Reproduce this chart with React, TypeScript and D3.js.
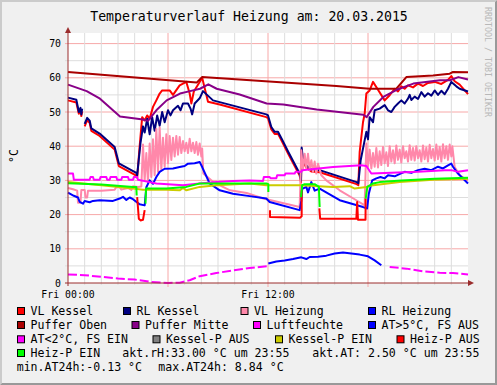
import * as d3 from 'd3';

type Pt = [number, number] | null;

// time axis in hours from Fri 00:00
const xTickLabels = ['Fri 00:00', 'Fri 12:00'];
const xTickHours = [0, 12];
const yTicks = [0, 10, 20, 30, 40, 50, 60, 70];

const vlKessel: Pt[] = [
  [0, 53.4], [0.5, 52.8], [0.65, 49.5], [0.75, 50.5], [0.8, 48.8], [0.85, 50.2], null,
  [1.0, 45.8], [1.15, 47.6], [1.3, 46.8], [1.4, 44.5], [1.9, 43], [2.8, 39], [3.05, 34.2],
  [4.1, 31.4], [4.15, 30.8], [4.3, 40], [4.45, 48.5], [4.6, 47.5], [4.75, 49], [4.9, 48],
  [5.1, 51.5], [5.3, 53.4], [5.5, 55.4], [5.65, 56.3], [6.1, 56.3], [6.3, 55], [6.7, 57.8],
  [7.1, 58.8], [7.3, 55.4], [7.4, 52.5], [7.55, 56], [7.9, 58.8], [8.05, 60.0], [8.4, 53.0],
  [9.1, 52.2], [11.9, 48.5], [12.0, 48.2], [12.2, 44.9], [12.4, 43.6], [12.6, 43.6], [12.82, 41.6],
  [13.22, 37.7], [13.9, 31.4], [13.98, 29.4], [14.02, 39], [14.1, 35.4], [14.3, 33.8], [14.6, 32.6],
  [15.1, 32.4], [17.32, 28.9], [17.42, 28.6], [17.5, 38.3], [17.7, 47], [17.8, 49.5], [17.9, 55.4],
  [18.1, 56.3], [18.3, 58.8], [18.6, 56.5], [19.0, 53.4], [19.3, 54.9], [19.6, 56.8], [19.8, 56],
  [20.0, 57.5], [20.2, 56.8], [20.4, 57.8], [20.7, 57.2], [21.0, 58.3], [21.3, 57.6], [21.6, 58.5],
  [22.0, 58.8], [22.4, 58.2], [22.8, 59.4], [23.0, 60.5], [23.2, 59.0], [23.5, 58.0], [24, 55.2],
];

const rlKessel: Pt[] = [
  [0, 54.2], [0.5, 53.6], [0.65, 50.0], [0.75, 51.2], [0.8, 49.3], [0.85, 51.0], null,
  [1.0, 46.5], [1.15, 48.3], [1.3, 47.5], [1.4, 45.2], [1.9, 43.7], [2.8, 39.8], [3.05, 35],
  [4.1, 32.2], [4.15, 31.5], [4.35, 41], [4.5, 45.8], [4.6, 44], [4.75, 48], [4.9, 43.5],
  [5.05, 48.5], [5.2, 44.5], [5.35, 49], [5.5, 46], [5.65, 50], [5.8, 47], [6.0, 50.5],
  [6.15, 49], [6.3, 50.5], [6.6, 51.8], [6.75, 50.5], [6.9, 52.5], [7.2, 52.5], [7.35, 51],
  [7.45, 49.3], [7.6, 52.5], [7.9, 54], [8.1, 56.1], [8.7, 53.4], [11.9, 49.3], [12.0, 49.0],
  [12.2, 45.6], [12.4, 44.2], [12.6, 44.2], [12.82, 42.2], [13.22, 38.3], [13.9, 32], [13.98, 30],
  [14.02, 39.6], [14.1, 36], [14.3, 34.4], [14.6, 33.2], [15.1, 33.0], [17.32, 29.5], [17.42, 29.2],
  [17.56, 35.9], [17.72, 39.8], [17.9, 44.2], [18.0, 42], [18.1, 48.5], [18.3, 47], [18.4, 50.5],
  [18.7, 51], [19.0, 52], [19.2, 50.5], [19.4, 50], [19.6, 51.5], [19.8, 52.5], [20.0, 53.4],
  [20.2, 52.5], [20.4, 53.9], [20.5, 55], [20.6, 53.5], [20.8, 54.5], [21.0, 53.8], [21.2, 55.8],
  [21.4, 54.5], [21.6, 55.5], [21.8, 54.8], [22.0, 56.3], [22.2, 55], [22.4, 56.2], [22.6, 55.2],
  [22.8, 56.8], [23.0, 58.8], [23.3, 57.5], [23.5, 56.8], [24, 56.0],
];

const vlHeizung: Pt[] = [
  [0, 27.8], [0.3, 27.4], [0.55, 27], [0.6, 23.5], [0.75, 23.5], [0.8, 27.2], [1.0, 27.2],
  [1.05, 25], [1.15, 25], [1.2, 27], [2.0, 27], [2.8, 27.3], [2.9, 28], [3.1, 28], [3.2, 27.3],
  [3.6, 27.8], [3.8, 27.2], [3.9, 28.3], [4.2, 28.1], [4.4, 28.2],
  [4.5, 40.5], [4.6, 30], [4.7, 38], [4.8, 29.5], [4.9, 40.8], [5.0, 31], [5.1, 42], [5.2, 31.5],
  [5.3, 45], [5.4, 32.5], [5.5, 45.5], [5.6, 33], [5.7, 42.5], [5.8, 34], [5.9, 43.5], [6.0, 35],
  [6.1, 43], [6.2, 36], [6.3, 42.5], [6.4, 37], [6.5, 43], [6.6, 37.5], [6.7, 42.7], [6.8, 38],
  [6.9, 41.5], [7.0, 38.5], [7.1, 41], [7.2, 38], [7.3, 42.2], [7.4, 38.5], [7.5, 41], [7.6, 38],
  [7.7, 41.2], [7.8, 37.5], [7.9, 40.8], [8.0, 37], [8.05, 39.3], [8.12, 32], [8.72, 29.5],
  [9.72, 27.1], [10.72, 26.3], [11.72, 24.7], [13.9, 22.2],
  [14.0, 38.8], [14.1, 33], [14.2, 37.8], [14.3, 33.5], [14.4, 37.8], [14.5, 33], [14.6, 35.9],
  [14.7, 32.5], [14.8, 35.5], [14.9, 32], [15.0, 34.9], [15.2, 31.5], [15.5, 30], [16.3, 27.1],
  [17.3, 24.2], [17.8, 22.7],
  [17.9, 40.8], [18.0, 34], [18.1, 39], [18.2, 33.5], [18.3, 38], [18.4, 34], [18.5, 39.5],
  [18.6, 33.8], [18.7, 38.5], [18.8, 34.5], [18.9, 39.8], [19.0, 35], [19.1, 38.2], [19.2, 34.2],
  [19.3, 40], [19.4, 35.5], [19.5, 38.8], [19.6, 35], [19.7, 40.2], [19.8, 36], [19.9, 39],
  [20.0, 35.2], [20.1, 40], [20.2, 36.5], [20.3, 38.5], [20.4, 35.5], [20.5, 40.3], [20.6, 36],
  [20.7, 39.5], [20.8, 35.8], [20.9, 40], [21.0, 36.5], [21.1, 38.8], [21.2, 35.5], [21.3, 40.2],
  [21.4, 36.2], [21.5, 39.6], [21.6, 35.5], [21.7, 40.4], [21.8, 36.5], [21.9, 39.2], [22.0, 35.8],
  [22.1, 40.5], [22.2, 36.2], [22.3, 39.8], [22.4, 35.5], [22.5, 40.6], [22.6, 36.5], [22.7, 40],
  [22.8, 36], [22.9, 40.5], [23.0, 37], [23.06, 40], [23.2, 33.9], [23.5, 31.5], [24, 30],
];

const rlHeizung: Pt[] = [
  [0, 26.4], [0.35, 25.5], [0.6, 25], [0.7, 23.7], [0.9, 23.2], [1.0, 24], [1.3, 23.6], [1.5, 24],
  [1.9, 24.2], [2.7, 24], [3.1, 24.7], [3.3, 25.2], [3.5, 24.3], [3.7, 25], [3.9, 24.5], [4.3, 23],
  [4.6, 22.7], [4.7, 28], [4.9, 30], [5.1, 29], [5.3, 31], [5.5, 32.5], [5.8, 33.4], [6.3, 33.5],
  [6.7, 33.9], [7.0, 34.2], [7.2, 34.9], [7.6, 35], [7.9, 35.4], [8.05, 33.9], [8.5, 29.1],
  [9.1, 27.1], [9.9, 26.1], [10.9, 25.4], [11.9, 24.7], [12.1, 23.7], [13.9, 21.3], [14.0, 24],
  [14.05, 27.5], [14.3, 28.1], [14.4, 26.5], [14.6, 29.5], [14.8, 27], [15.1, 27.6], [16.3, 24.2],
  [17.7, 22.2], [17.95, 21.8], [18.05, 26.1], [18.25, 30], [18.5, 30.6], [18.75, 31], [19.0, 30.6],
  [19.2, 31.5], [19.6, 31.2], [19.95, 32], [20.2, 32.5], [20.6, 32.2], [21.0, 33], [21.4, 33.4],
  [21.8, 33], [22.2, 34], [22.5, 33.5], [22.8, 34.4], [23.0, 34.9], [23.1, 34], [23.4, 32],
  [24, 29.1],
];

const pufferOben: Pt[] = [
  [0, 61.7], [7.72, 58.6], [8.04, 60.2], [16.1, 57.6], [18.1, 56.8], [19.7, 56.8], [20.3, 60.2],
  [21.9, 60.7], [22.9, 61.2], [23.1, 61.7], [24, 61.6],
];

const pufferMitte: Pt[] = [
  [0, 58.0], [1.12, 56.1], [1.92, 53.9], [3.12, 48.7], [4.5, 47.8], [4.8, 47.4], [5.3, 50.5],
  [5.92, 53.4], [6.72, 55.4], [7.32, 56.1], [7.92, 56.8], [8.42, 58.1], [8.92, 56.8], [10.3, 55.1],
  [11.92, 52.5], [12.92, 52.2], [14.92, 50.7], [17.72, 49.2], [17.92, 48.5], [18.32, 51.5],
  [18.92, 54.4], [19.72, 56.5], [20.72, 58.3], [22.32, 59.3], [22.92, 59.3], [23.42, 60.2],
  [24, 59.5],
];

const luftfeuchte: Pt[] = [
  [0, 32], [0.3, 32], [0.35, 30.2], [1.3, 30.2], [1.35, 31], [1.5, 31], [1.55, 30.2], [1.9, 30.2],
  [1.95, 31], [2.3, 31], [2.35, 30.2], [2.5, 30.2], [2.55, 31], [2.9, 31], [2.95, 30.2], [3.2, 30.2],
  [3.25, 31], [3.6, 31], [3.65, 30.2], [3.9, 30.2], [3.95, 31], [4.15, 31], [4.2, 30.2], [4.9, 29.5],
  [5.3, 29.1], [6.9, 28.6], [7.9, 29.1], [8.9, 29.5], [9.9, 29.8], [10.9, 30], [11.7, 29.8],
  [11.75, 31], [12.1, 31], [12.15, 30.6], [12.5, 30.6], [12.55, 31.5], [13.0, 31.5], [13.05, 32],
  [13.6, 32], [13.65, 32.5], [14.0, 32.5], [14.05, 33], [14.9, 33.4], [15.9, 33.9], [17.6, 34.4],
  [17.9, 34.2], [18.2, 32], [19.0, 32.2], [21.0, 32.5], [22.6, 33], [23.0, 33], [23.4, 32.5],
  [24, 33],
];

// outside temperature, split by colour band
const atWarm: Pt[] = [
  [12.02, 5.7], [12.5, 6.3], [13, 6.6], [13.5, 7.0], [14, 7.5], [14.3, 7.0], [14.5, 7.6], [15.0, 7.7],
  [15.5, 8.0], [16.0, 8.6], [16.5, 8.9], [17.0, 8.6], [17.5, 8.3], [18.0, 7.8], [18.4, 6.6],
  [18.8, 5.2],
];

const atCold: Pt[] = [
  [0, 2.5], [1, 2.3], [2, 1.8], [3, 1.3], [4, 1.0], [5, 0.3], [6, 0], [6.7, 0.1], [7.3, 0.8],
  [7.9, 2.0], [8.9, 2.9], [9.9, 3.7], [10.9, 4.4], [11.95, 4.9], null,
  [19.3, 4.7], [20.3, 4.2], [21.3, 3.4], [22.3, 3.0], [23.1, 2.9], [24, 2.5],
];

const kesselPEin: Pt[] = [
  [0, 29.5], [2, 28.6], [3.9, 27.6], [4.5, 27.3], [5.9, 27.3], [6.7, 27.1], [6.9, 27.8], [7.1, 27.1],
  [7.9, 28.1], [8.9, 28.6], [10.9, 29.1], [11.9, 28.6], [13.9, 28.6], [15.9, 28.1], [16.9, 28.3],
  [17.2, 27.6], [17.9, 28.1], [18.2, 28.5], [19.9, 29.5], [21.9, 30.2], [24, 30.5],
];

const heizPAus: Pt[] = [
  [4.15, 25.1], [4.25, 18.8], [4.35, 18.3], [4.5, 18.5], [4.6, 21.3], null,
  [12.12, 21.3], [12.12, 19.3], [13.92, 19.1], [14.02, 19.5], [14.02, 27.1], null,
  [15.08, 21.8], [15.13, 18.8], [17.3, 18.8], [17.35, 23.7], [17.4, 18.5], [17.85, 18.5],
  [17.86, 24.7],
];

const heizPEin: Pt[] = [
  [0, 29.2], [2, 28.8], [3.9, 28.1], [4.1, 28.1], [4.12, 25.6], null,
  [4.65, 23.2], [4.68, 27.6], [5.9, 27.6], [7.1, 28.1], [7.9, 29.1], [11.9, 29.1], [12.02, 28.9],
  [12.02, 26.6], null,
  [13.98, 25.1], [14.05, 28.6], [14.2, 28.9], [14.8, 28.9], [15.05, 28.1], [15.1, 22.2], null,
  [17.86, 24.7], [17.96, 28.1], [18.3, 29.1], [18.7, 29.5], [20.0, 30], [22.0, 30.5], [24, 30.8],
];

const series = [
  { data: vlKessel, color: '#ff0000' },
  { data: rlKessel, color: '#000080' },
  { data: vlHeizung, color: '#ff88aa' },
  { data: rlHeizung, color: '#0000ff' },
  { data: pufferOben, color: '#aa0000' },
  { data: pufferMitte, color: '#880088' },
  { data: luftfeuchte, color: '#ff00ff' },
  { data: atWarm, color: '#0000ff' },
  { data: atCold, color: '#ff00ff', dash: '9 3' },
  { data: kesselPEin, color: '#cccc00' },
  { data: heizPAus, color: '#ff0000' },
  { data: heizPEin, color: '#00ff00' },
];

const legendRows = [
  [
    { x: 17, label: 'VL Kessel', color: '#ff0000' },
    { x: 123, label: 'RL Kessel', color: '#000080' },
    { x: 240.5, label: 'VL Heizung', color: '#ff88aa' },
    { x: 368, label: 'RL Heizung', color: '#0000ff' },
  ],
  [
    { x: 17, label: 'Puffer Oben', color: '#aa0000' },
    { x: 131.5, label: 'Puffer Mitte', color: '#880088' },
    { x: 253, label: 'Luftfeuchte', color: '#ff00ff' },
    { x: 368, label: 'AT>5°C, FS AUS', color: '#0000ff' },
  ],
  [
    { x: 17, label: 'AT<2°C, FS EIN', color: '#ff00ff' },
    { x: 152.5, label: 'Kessel-P AUS', color: '#808080' },
    { x: 275, label: 'Kessel-P EIN', color: '#cccc00' },
    { x: 396.5, label: 'Heiz-P AUS', color: '#ff0000' },
  ],
  [{ x: 17, label: 'Heiz-P EIN', color: '#00ff00' }],
];

const W = 497;
const H = 385;
const MONO = '"DejaVu Sans Mono", monospace';

export default function App() {
  const x = d3.scaleLinear().domain([0, 24]).range([68, 468]);
  const y = d3.scaleLinear().domain([0, 73.1]).range([283, 33]);

  const line = d3
    .line<Pt>()
    .defined((d) => d !== null)
    .x((d) => x((d as [number, number])[0]))
    .y((d) => y((d as [number, number])[1]));

  const hours = d3.range(1, 24);
  const yGrid = d3.range(5, 75, 5);
  const rowBase = [315, 329, 343.3, 357];

  return (
    <svg
      width={W}
      height={H}
      style={{ position: 'absolute', left: 0, top: 0, display: 'block' }}
      fontFamily={MONO}
    >
      <rect x={0} y={0} width={W} height={H} fill="#f0f0f0" />
      <path d={`M0,0H${W}L${W - 2},2H2V${H - 2}L0,${H}Z`} fill="#cbcbcb" />
      <path d={`M${W},${H}H0L2,${H - 2}H${W - 2}V2L${W},0Z`} fill="#999999" />

      <rect x={68} y={33} width={400} height={250} fill="#ffffff" />

      {/* grid */}
      {yGrid.map((v) => (
        <line
          key={'gy' + v}
          x1={65}
          x2={468}
          y1={y(v)}
          y2={y(v)}
          stroke={v % 10 === 0 ? '#f7a8a8' : '#dddddd'}
          strokeWidth={1}
        />
      ))}
      {hours.map((h) => (
        <line
          key={'gx' + h}
          x1={x(h)}
          x2={x(h)}
          y1={33}
          y2={h % 6 === 0 ? 287 : 285}
          stroke={h % 6 === 0 ? '#f7a8a8' : '#dddddd'}
          strokeWidth={1}
        />
      ))}

      {/* series */}
      {series.map((s, i) => (
        <path
          key={i}
          d={line(s.data) || ''}
          fill="none"
          stroke={s.color}
          strokeWidth={2}
          strokeDasharray={s.dash}
          strokeLinejoin="round"
        />
      ))}

      {/* axes */}
      <line x1={68} x2={68} y1={286} y2={31} stroke="#9b2d2d" strokeWidth={1} />
      <line x1={65} x2={469} y1={283} y2={283} stroke="#9b2d2d" strokeWidth={1} />
      <path d="M68,27L71,33H65Z" fill="#9b2d2d" />
      <path d="M474,283L468,280V286Z" fill="#9b2d2d" />

      {yTicks.map((v) => (
        <text key={'yl' + v} x={61} y={y(v) + 3.5} fontSize={9.85} textAnchor="end" fill="#000">
          {v}
        </text>
      ))}
      {xTickHours.map((h, i) => (
        <text key={'xl' + h} x={x(h)} y={298} fontSize={9.85} textAnchor="middle" fill="#000">
          {xTickLabels[i]}
        </text>
      ))}

      <text x={249} y={21} fontSize={13.2} textAnchor="middle" fill="#000">
        Temperaturverlauf Heizung am: 20.03.2015
      </text>
      <text
        transform="translate(17.5,156) rotate(-90)"
        fontSize={11.5}
        textAnchor="middle"
        fill="#000"
      >
        °C
      </text>
      <text
        transform="translate(484.5,7) rotate(90)"
        fontSize={8.3}
        fill="#b8b8b8"
      >
        RRDTOOL / TOBI OETIKER
      </text>

      {/* legend */}
      {legendRows.map((row, ri) =>
        row.map((it) => (
          <g key={it.label}>
            <rect
              x={it.x + 0.5}
              y={rowBase[ri] - 7.5}
              width={7}
              height={7}
              fill={it.color}
              stroke="#000"
              strokeWidth={1}
            />
            <text x={it.x + 13.5} y={rowBase[ri]} fontSize={11.57} fill="#000">
              {it.label}
            </text>
          </g>
        ))
      )}
      <text x={122.3} y={357} fontSize={11.57} fill="#000">
        akt.rH:33.00 °C um 23:55
      </text>
      <text x={312.3} y={357} fontSize={11.57} fill="#000">
        akt.AT: 2.50 °C um 23:55
      </text>
      <text x={16.7} y={371} fontSize={11.57} fill="#000">
        min.AT24h:-0.13 °C
      </text>
      <text x={158.3} y={371} fontSize={11.57} fill="#000">
        max.AT24h: 8.84 °C
      </text>
    </svg>
  );
}
